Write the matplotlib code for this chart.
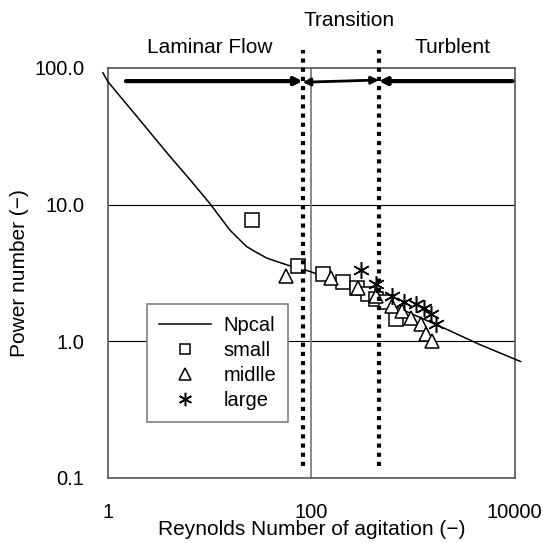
import matplotlib
matplotlib.use("Agg")
import matplotlib.pyplot as plt
import numpy as np

plt.rcParams['font.family'] = ['Liberation Sans', 'DejaVu Sans']

# Npcal curve
re_cal = [0.89, 1, 2, 4, 6.4, 10, 13, 15.8, 19, 23, 29, 36.3, 47, 61.5, 96.7, 235, 500, 1000, 2000, 4450, 11400]
np_cal = [92, 79, 42.5, 22.8, 15.2, 10.2, 7.87, 6.5, 5.67, 4.93, 4.45, 4.06, 3.8, 3.56, 3.24, 2.54, 1.98, 1.57, 1.25, 0.95, 0.71]

# measured data
re_small = [26.2, 73.4, 129, 203, 278, 357, 431, 540, 686]
np_small = [7.7, 3.56, 3.09, 2.72, 2.47, 2.23, 2.03, 1.92, 1.45]

re_mid = [56.4, 156, 284, 430, 617, 783, 947, 1188, 1330, 1550]
np_mid = [3.0, 2.92, 2.44, 2.14, 1.81, 1.66, 1.48, 1.33, 1.13, 1.01]

re_large = [307, 430, 626, 814, 1060, 1282, 1487, 1664]
np_large = [3.31, 2.61, 2.14, 1.92, 1.86, 1.76, 1.57, 1.34]

# flow regime boundaries
re_bounds = [82, 460]
regime_labels = ["Laminar Flow", "Transition", "Turblent"]
regime_label_x = [10, 234, 2450]
regime_label_y = [140, 221, 140]

fig = plt.figure(figsize=(5.43, 5.43), dpi=100)
ax = fig.add_axes([0.199, 0.120, 0.749, 0.755])
ax.set_xscale('log')
ax.set_yscale('log')
ax.set_xlim(1, 10000)
ax.set_ylim(0.1, 100)

# grid lines
for yv in [1, 10]:
    ax.axhline(yv, color='black', lw=0.8, zorder=1)
ax.axvline(100, color='#808080', lw=1.3, zorder=1)

ax.plot(re_cal, np_cal, color='black', lw=1.1, label='Npcal', clip_on=False, zorder=3)
ax.plot(re_small, np_small, ls='none', marker='s', ms=9.5, mfc='white', mec='black',
        mew=1.1, label='small', zorder=4)
ax.plot(re_mid, np_mid, ls='none', marker='^', ms=10, mfc='white', mec='black',
        mew=1.1, label='midlle', zorder=4)
ax.plot(re_large, np_large, ls='none', marker=(6, 2, 0), ms=12, mec='black',
        mew=1.1, label='large', zorder=4)

# regime boundaries
for rb in re_bounds:
    ax.plot([rb, rb], [0.123, 135], color='black', lw=3, ls=(0, (1, 1.2)),
            dash_capstyle='butt', clip_on=False, zorder=5)

# arrows
akw = dict(arrowstyle='-|>', color='black', lw=3, mutation_scale=11, shrinkA=0, shrinkB=0)
ax.annotate('', xy=(re_bounds[0], 80), xytext=(1.5, 80), arrowprops=akw, zorder=6)
ax.annotate('', xy=(re_bounds[1], 81.5), xytext=(re_bounds[0], 78.5),
            arrowprops=dict(akw, arrowstyle='<|-|>', lw=2), zorder=6)
ax.annotate('', xy=(re_bounds[1], 80), xytext=(9500, 80), arrowprops=akw, zorder=6)

for lab, lx, ly in zip(regime_labels, regime_label_x, regime_label_y):
    ax.text(lx, ly, lab, ha='center', va='center', fontsize=15)

for sp in ax.spines.values():
    sp.set_color('#555555')
    sp.set_linewidth(1.2)

ax.set_xticks([1, 100, 10000])
ax.set_xticklabels(['1', '100', '10000'])
ax.set_yticks([0.1, 1, 10, 100])
ax.set_yticklabels(['0.1', '1.0', '10.0', '100.0'])
ax.minorticks_off()
ax.tick_params(axis='both', length=0, labelsize=14.5)
ax.tick_params(axis='x', pad=18)
ax.tick_params(axis='y', pad=17)

ax.set_xlabel('Reynolds Number of agitation (\u2212)', fontsize=15, labelpad=-1)
ax.set_ylabel('Power number (\u2212)', fontsize=15, labelpad=4)

leg = ax.legend(loc='upper left', bbox_to_anchor=(0.095, 0.425), fontsize=14.5,
                frameon=True, fancybox=False, edgecolor='#808080', framealpha=1,
                handlelength=2.6, labelspacing=0.3, borderpad=0.6, borderaxespad=0,
                markerscale=0.8, handletextpad=0.6)
leg.get_frame().set_linewidth(1.2)

fig.savefig('out.png', dpi=100)
